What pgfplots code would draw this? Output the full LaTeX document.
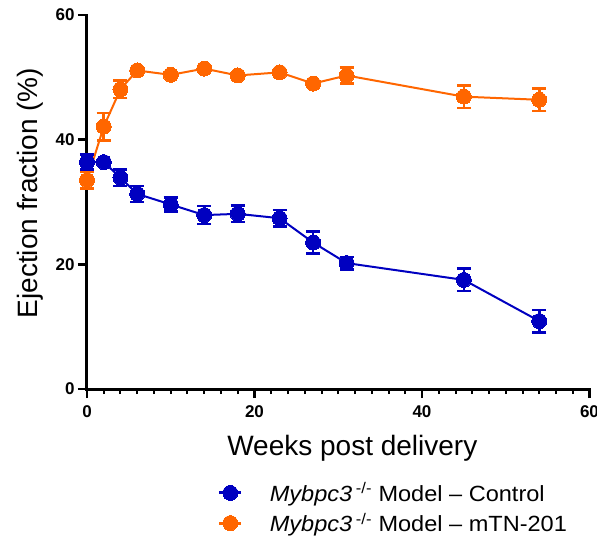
\documentclass[border=0pt]{standalone}
\usepackage{fontspec}
\setmainfont{Liberation Sans}
\newfontfamily\legendfont[FakeStretch=1.07, Ligatures=TeX]{Liberation Sans}
\usepackage{pgfplots}
\pgfplotsset{compat=1.18}

\definecolor{ctrlblue}{RGB}{0,0,192}
\definecolor{tnorange}{RGB}{255,102,0}

\begin{document}
\begin{tikzpicture}
\begin{axis}[
  at={(0pt,0pt)}, anchor=south west,
  scale only axis,
  width=502.5pt, height=374pt,
  xmin=0, xmax=60, ymin=0, ymax=60,
  axis lines=left,
  axis line style={-, line width=3pt, line cap=rect},
  xtick={0,20,40,60}, ytick={0,20,40,60},
  minor x tick num=9,
  tick align=outside,
  major tick length=9pt, minor tick length=5pt,
  every major tick/.style={black, line width=2.5pt},
  every minor tick/.style={black, line width=2pt},
  /pgf/number format/assume math mode=true,
  tick label style={font=\fontsize{17}{20}\selectfont\bfseries},
  xticklabel style={yshift=-4pt},
  xlabel={Weeks post delivery},
  ylabel={Ejection fraction (\%)},
  label style={font=\fontsize{28}{32}\selectfont},
  xlabel style={at={(axis description cs:0.528,-0.158)}, anchor=center},
  ylabel style={at={(axis description cs:-0.113,0.524)}, anchor=center, rotate=0},
  clip=false,
  reverse legend,
  legend cell align=left,
  legend style={at={(axis description cs:0.26,-0.245)}, anchor=north west,
    draw=none, fill=none, inner sep=0pt, row sep=6pt,
    font=\legendfont\fontsize{22}{25}\selectfont,
    nodes={inner xsep=14pt},
    /tikz/every odd column/.append style={column sep=13pt}},
  legend image code/.code={%
    \draw[mark repeat=2, mark phase=2, line width=3pt]
      plot coordinates {(0pt,0pt) (11pt,0pt) (22pt,0pt)};},
  every axis plot/.append style={line width=2pt},
  error bars/error bar style={line width=2.5pt},
  error bars/error mark options={line width=2.5pt, mark size=7pt, rotate=90},
]
% mTN-201 treated group
\addplot[tnorange, mark=*, mark size=7.5pt, mark options={fill=tnorange, draw=tnorange, line width=0pt},
  error bars/.cd, y dir=both, y explicit]
  table[x=wk, y=ef, y error=sem] {
    wk  ef    sem
    0   33.5  1.35
    2   42.1  2.2
    4   48.1  1.4
    6   51.1  0
    10  50.4  0
    14  51.4  0
    18  50.3  0
    23  50.8  0
    27  49.0  0
    31  50.3  1.3
    45  46.9  1.8
    54  46.4  1.8
  };
\addlegendentry{\textit{Mybpc3}\,\textsuperscript{-/-} Model – mTN-201}
% untreated control group
\addplot[ctrlblue, mark=*, mark size=7.5pt, mark options={fill=ctrlblue, draw=ctrlblue, line width=0pt},
  error bars/.cd, y dir=both, y explicit]
  table[x=wk, y=ef, y error=sem] {
    wk  ef    sem
    0   36.4  1.2
    2   36.4  0
    4   33.9  1.3
    6   31.3  1.3
    10  29.6  1.1
    14  27.9  1.45
    18  28.1  1.3
    23  27.4  1.3
    27  23.5  1.8
    31  20.2  1.0
    45  17.5  1.8
    54  10.9  1.8
  };
\addlegendentry{\textit{Mybpc3}\,\textsuperscript{-/-} Model – Control}
\end{axis}
\pgfresetboundingbox
\path[use as bounding box] (-87pt,-147pt) rectangle (510pt,389pt);
\end{tikzpicture}
\end{document}
